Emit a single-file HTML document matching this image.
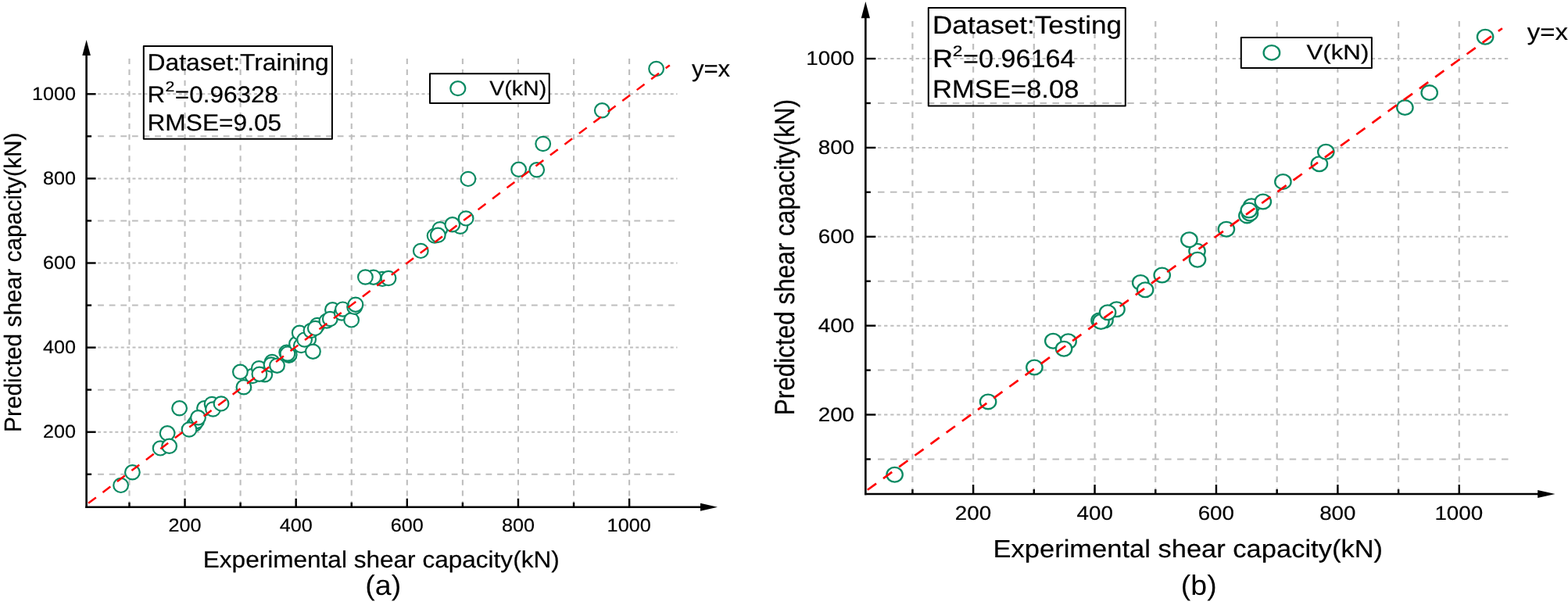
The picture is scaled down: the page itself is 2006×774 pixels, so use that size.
<!DOCTYPE html>
<html lang="en"><head><meta charset="utf-8"><title>Predicted vs experimental shear capacity</title>
<style>
html,body{margin:0;padding:0;background:#fff;}
body{width:2006px;height:774px;overflow:hidden;font-family:"Liberation Sans", sans-serif;}
svg{display:block;}
text{font-family:"Liberation Sans", sans-serif;text-rendering:geometricPrecision;}
</style></head><body>
<svg width="2006" height="774" viewBox="0 0 2006 774">
<rect x="0" y="0" width="2006" height="774" fill="#fff"/>
<!-- chart a -->
<g stroke="#bebebe" stroke-width="2" fill="none"><line x1="165.47" y1="75.00" x2="165.47" y2="648.75" stroke-width="2.1" stroke-dasharray="7.1 6.713" stroke-dashoffset="0"/><line x1="236.54" y1="75.00" x2="236.54" y2="648.75" stroke-width="2.1" stroke-dasharray="7.1 6.713" stroke-dashoffset="0"/><line x1="307.61" y1="75.00" x2="307.61" y2="648.75" stroke-width="2.1" stroke-dasharray="7.1 6.713" stroke-dashoffset="0"/><line x1="378.68" y1="75.00" x2="378.68" y2="648.75" stroke-width="2.1" stroke-dasharray="7.1 6.713" stroke-dashoffset="0"/><line x1="449.75" y1="75.00" x2="449.75" y2="648.75" stroke-width="2.1" stroke-dasharray="7.1 6.713" stroke-dashoffset="0"/><line x1="520.82" y1="75.00" x2="520.82" y2="648.75" stroke-width="2.1" stroke-dasharray="7.1 6.713" stroke-dashoffset="0"/><line x1="591.89" y1="75.00" x2="591.89" y2="648.75" stroke-width="2.1" stroke-dasharray="7.1 6.713" stroke-dashoffset="0"/><line x1="662.96" y1="75.00" x2="662.96" y2="648.75" stroke-width="2.1" stroke-dasharray="7.1 6.713" stroke-dashoffset="0"/><line x1="734.03" y1="75.00" x2="734.03" y2="648.75" stroke-width="2.1" stroke-dasharray="7.1 6.713" stroke-dashoffset="0"/><line x1="805.10" y1="75.00" x2="805.10" y2="648.75" stroke-width="2.1" stroke-dasharray="7.1 6.713" stroke-dashoffset="0"/><line x1="125.10" y1="606.75" x2="866.50" y2="606.75" stroke-dasharray="7.8 6.8" stroke-dashoffset="0"/><line x1="125.10" y1="552.70" x2="866.50" y2="552.70" stroke-dasharray="4 3.4" stroke-dashoffset="0"/><line x1="125.10" y1="498.65" x2="866.50" y2="498.65" stroke-dasharray="7.8 6.8" stroke-dashoffset="0"/><line x1="125.10" y1="444.60" x2="866.50" y2="444.60" stroke-dasharray="4 3.4" stroke-dashoffset="0"/><line x1="125.10" y1="390.55" x2="866.50" y2="390.55" stroke-dasharray="7.8 6.8" stroke-dashoffset="0"/><line x1="125.10" y1="336.50" x2="866.50" y2="336.50" stroke-dasharray="4 3.4" stroke-dashoffset="0"/><line x1="125.10" y1="282.45" x2="866.50" y2="282.45" stroke-dasharray="7.8 6.8" stroke-dashoffset="0"/><line x1="125.10" y1="228.40" x2="866.50" y2="228.40" stroke-dasharray="4 3.4" stroke-dashoffset="0"/><line x1="125.10" y1="174.35" x2="866.50" y2="174.35" stroke-dasharray="7.8 6.8" stroke-dashoffset="0"/><line x1="125.10" y1="120.30" x2="866.50" y2="120.30" stroke-dasharray="4 3.4" stroke-dashoffset="0"/></g>
<g fill="#fff" stroke="#0b8a63" stroke-width="2.2"><ellipse cx="154.6" cy="620.9" rx="9.35" ry="9.1"/><ellipse cx="169.4" cy="604.3" rx="9.35" ry="9.1"/><ellipse cx="205.1" cy="573.4" rx="9.35" ry="9.1"/><ellipse cx="214.1" cy="554.3" rx="9.35" ry="9.1"/><ellipse cx="216.6" cy="570.8" rx="9.35" ry="9.1"/><ellipse cx="229.6" cy="522.3" rx="9.35" ry="9.1"/><ellipse cx="248.6" cy="542.9" rx="9.35" ry="9.1"/><ellipse cx="251.5" cy="538.9" rx="9.35" ry="9.1"/><ellipse cx="242.0" cy="549.5" rx="9.35" ry="9.1"/><ellipse cx="261.5" cy="522.3" rx="9.35" ry="9.1"/><ellipse cx="253.5" cy="534.3" rx="9.35" ry="9.1"/><ellipse cx="271.1" cy="516.9" rx="9.35" ry="9.1"/><ellipse cx="272.5" cy="523.5" rx="9.35" ry="9.1"/><ellipse cx="283.0" cy="516.4" rx="9.35" ry="9.1"/><ellipse cx="323.1" cy="481.0" rx="9.35" ry="9.1"/><ellipse cx="331.3" cy="471.2" rx="9.35" ry="9.1"/><ellipse cx="338.8" cy="479.3" rx="9.35" ry="9.1"/><ellipse cx="307.4" cy="475.8" rx="9.35" ry="9.1"/><ellipse cx="311.9" cy="495.3" rx="9.35" ry="9.1"/><ellipse cx="331.9" cy="478.7" rx="9.35" ry="9.1"/><ellipse cx="348.1" cy="463.0" rx="9.35" ry="9.1"/><ellipse cx="347.0" cy="466.5" rx="9.35" ry="9.1"/><ellipse cx="354.5" cy="467.7" rx="9.35" ry="9.1"/><ellipse cx="366.7" cy="450.8" rx="9.35" ry="9.1"/><ellipse cx="369.7" cy="454.9" rx="9.35" ry="9.1"/><ellipse cx="370.2" cy="453.7" rx="9.35" ry="9.1"/><ellipse cx="367.9" cy="452.6" rx="9.35" ry="9.1"/><ellipse cx="379.5" cy="439.8" rx="9.35" ry="9.1"/><ellipse cx="385.3" cy="442.1" rx="9.35" ry="9.1"/><ellipse cx="383.2" cy="425.8" rx="9.35" ry="9.1"/><ellipse cx="394.7" cy="434.0" rx="9.35" ry="9.1"/><ellipse cx="400.4" cy="449.7" rx="9.35" ry="9.1"/><ellipse cx="389.6" cy="434.6" rx="9.35" ry="9.1"/><ellipse cx="398.0" cy="423.0" rx="9.35" ry="9.1"/><ellipse cx="406.0" cy="416.0" rx="9.35" ry="9.1"/><ellipse cx="403.3" cy="419.9" rx="9.35" ry="9.1"/><ellipse cx="417.9" cy="410.6" rx="9.35" ry="9.1"/><ellipse cx="425.4" cy="396.3" rx="9.35" ry="9.1"/><ellipse cx="422.3" cy="408.0" rx="9.35" ry="9.1"/><ellipse cx="437.2" cy="400.5" rx="9.35" ry="9.1"/><ellipse cx="438.5" cy="395.6" rx="9.35" ry="9.1"/><ellipse cx="449.6" cy="409.4" rx="9.35" ry="9.1"/><ellipse cx="453.6" cy="392.8" rx="9.35" ry="9.1"/><ellipse cx="454.9" cy="389.7" rx="9.35" ry="9.1"/><ellipse cx="489.2" cy="356.9" rx="9.35" ry="9.1"/><ellipse cx="477.8" cy="354.7" rx="9.35" ry="9.1"/><ellipse cx="467.4" cy="354.5" rx="9.35" ry="9.1"/><ellipse cx="497.0" cy="356.0" rx="9.35" ry="9.1"/><ellipse cx="538.3" cy="320.9" rx="9.35" ry="9.1"/><ellipse cx="556.1" cy="301.6" rx="9.35" ry="9.1"/><ellipse cx="562.8" cy="293.2" rx="9.35" ry="9.1"/><ellipse cx="560.3" cy="300.8" rx="9.35" ry="9.1"/><ellipse cx="588.8" cy="289.8" rx="9.35" ry="9.1"/><ellipse cx="578.8" cy="287.3" rx="9.35" ry="9.1"/><ellipse cx="596.1" cy="279.4" rx="9.35" ry="9.1"/><ellipse cx="598.9" cy="228.9" rx="9.35" ry="9.1"/><ellipse cx="663.6" cy="216.8" rx="9.35" ry="9.1"/><ellipse cx="686.7" cy="217.3" rx="9.35" ry="9.1"/><ellipse cx="694.7" cy="184.0" rx="9.35" ry="9.1"/><ellipse cx="770.3" cy="141.3" rx="9.35" ry="9.1"/><ellipse cx="839.6" cy="88.0" rx="9.35" ry="9.1"/></g>
<line x1="113.0" y1="643.8" x2="856.8" y2="83.4" stroke="#ff0000" stroke-width="2.5" stroke-dasharray="12.3 10.82" stroke-dashoffset="0"/>
<g stroke="#000" stroke-width="2.6" fill="none"><line x1="110.60" y1="650.05" x2="110.60" y2="69.90"/><line x1="109.30" y1="648.75" x2="897.00" y2="648.75"/><line x1="165.47" y1="648.75" x2="165.47" y2="642.75" stroke-width="2.4"/><line x1="110.60" y1="606.75" x2="117.10" y2="606.75" stroke-width="2.4"/><line x1="236.54" y1="648.75" x2="236.54" y2="637.75" stroke-width="2.4"/><line x1="110.60" y1="552.70" x2="122.60" y2="552.70" stroke-width="2.4"/><line x1="307.61" y1="648.75" x2="307.61" y2="642.75" stroke-width="2.4"/><line x1="110.60" y1="498.65" x2="117.10" y2="498.65" stroke-width="2.4"/><line x1="378.68" y1="648.75" x2="378.68" y2="637.75" stroke-width="2.4"/><line x1="110.60" y1="444.60" x2="122.60" y2="444.60" stroke-width="2.4"/><line x1="449.75" y1="648.75" x2="449.75" y2="642.75" stroke-width="2.4"/><line x1="110.60" y1="390.55" x2="117.10" y2="390.55" stroke-width="2.4"/><line x1="520.82" y1="648.75" x2="520.82" y2="637.75" stroke-width="2.4"/><line x1="110.60" y1="336.50" x2="122.60" y2="336.50" stroke-width="2.4"/><line x1="591.89" y1="648.75" x2="591.89" y2="642.75" stroke-width="2.4"/><line x1="110.60" y1="282.45" x2="117.10" y2="282.45" stroke-width="2.4"/><line x1="662.96" y1="648.75" x2="662.96" y2="637.75" stroke-width="2.4"/><line x1="110.60" y1="228.40" x2="122.60" y2="228.40" stroke-width="2.4"/><line x1="734.03" y1="648.75" x2="734.03" y2="642.75" stroke-width="2.4"/><line x1="110.60" y1="174.35" x2="117.10" y2="174.35" stroke-width="2.4"/><line x1="805.10" y1="648.75" x2="805.10" y2="637.75" stroke-width="2.4"/><line x1="110.60" y1="120.30" x2="122.60" y2="120.30" stroke-width="2.4"/></g>
<path d="M110.60 51.00 L115.90 70.90 L110.60 70.90 L105.30 70.90 Z" fill="#000"/>
<path d="M918.00 648.75 L896.00 643.75 L896.00 648.75 L896.00 653.75 Z" fill="#000"/>
<g font-family='"Liberation Sans", sans-serif' fill="#000" stroke="#000" stroke-width="0.2" stroke-linejoin="round"><text transform="translate(55.05,559.90) scale(1.0612,1)" font-size="23.73" fill="#000">200</text><text transform="translate(215.39,679.60) scale(1.0612,1)" font-size="23.73" fill="#000">200</text><text transform="translate(55.05,451.80) scale(1.0613,1)" font-size="23.73" fill="#000">400</text><text transform="translate(357.87,679.60) scale(1.0613,1)" font-size="23.73" fill="#000">400</text><text transform="translate(55.05,343.70) scale(1.0612,1)" font-size="23.73" fill="#000">600</text><text transform="translate(499.67,679.60) scale(1.0612,1)" font-size="23.73" fill="#000">600</text><text transform="translate(55.05,235.60) scale(1.0612,1)" font-size="23.73" fill="#000">800</text><text transform="translate(641.90,679.60) scale(1.0612,1)" font-size="23.73" fill="#000">800</text><text transform="translate(41.01,127.50) scale(1.0626,1)" font-size="23.73" fill="#000">1000</text><text transform="translate(776.61,679.60) scale(1.0626,1)" font-size="23.73" fill="#000">1000</text><text transform="translate(259.80,725.60) scale(1.0539,1)" font-size="29.94" fill="#000">Experimental shear capacity(kN)</text><text transform="translate(27.20,552.96) rotate(-90) scale(1,1.0271)" font-size="29.86">Predicted shear capacity(kN)</text><text stroke="none" transform="translate(467.35,761.30) scale(1.0468,1)" font-size="35.86" fill="#000">(a)</text><text transform="translate(884.92,97.80) scale(1.0387,1)" font-size="29.92" fill="#000">y=x</text><rect x="183.8" y="59.1" width="241.1" height="118.7" fill="none" stroke="#000" stroke-width="2"/><text transform="translate(188.47,89.80) scale(1.0531,1)" font-size="30.23" fill="#000">Dataset:Training</text><text transform="translate(188.51,130.60) scale(1.0590,1)" font-size="29.65" fill="#000">R</text><text transform="translate(211.43,116.70) scale(1.1610,1)" font-size="18.36" fill="#000">2</text><text transform="translate(223.82,130.60) scale(1.0631,1)" font-size="29.65" fill="#000">=0.96328</text><text transform="translate(188.49,166.50) scale(1.0688,1)" font-size="29.65" fill="#000">RMSE=9.05</text><rect x="550" y="94.2" width="152.7" height="37.9" fill="#fff" stroke="#000" stroke-width="2"/><ellipse cx="585.8" cy="113.2" rx="9.5" ry="9.0" fill="#fff" stroke="#0b8a63" stroke-width="2.2"/><text transform="translate(626.26,121.70) scale(1.0790,1)" font-size="26.45" fill="#000">V(kN)</text></g>
<!-- chart b -->
<g stroke="#bebebe" stroke-width="2" fill="none"><line x1="1167.41" y1="26.90" x2="1167.41" y2="632.00" stroke-width="2.2" stroke-dasharray="7.47 7.097" stroke-dashoffset="0"/><line x1="1245.12" y1="26.90" x2="1245.12" y2="632.00" stroke-width="2.2" stroke-dasharray="7.47 7.097" stroke-dashoffset="0"/><line x1="1322.83" y1="26.90" x2="1322.83" y2="632.00" stroke-width="2.2" stroke-dasharray="7.47 7.097" stroke-dashoffset="0"/><line x1="1400.54" y1="26.90" x2="1400.54" y2="632.00" stroke-width="2.2" stroke-dasharray="7.47 7.097" stroke-dashoffset="0"/><line x1="1478.25" y1="26.90" x2="1478.25" y2="632.00" stroke-width="2.2" stroke-dasharray="7.47 7.097" stroke-dashoffset="0"/><line x1="1555.96" y1="26.90" x2="1555.96" y2="632.00" stroke-width="2.2" stroke-dasharray="7.47 7.097" stroke-dashoffset="0"/><line x1="1633.67" y1="26.90" x2="1633.67" y2="632.00" stroke-width="2.2" stroke-dasharray="7.47 7.097" stroke-dashoffset="0"/><line x1="1711.38" y1="26.90" x2="1711.38" y2="632.00" stroke-width="2.2" stroke-dasharray="7.47 7.097" stroke-dashoffset="0"/><line x1="1789.09" y1="26.90" x2="1789.09" y2="632.00" stroke-width="2.2" stroke-dasharray="7.47 7.097" stroke-dashoffset="0"/><line x1="1866.80" y1="26.90" x2="1866.80" y2="632.00" stroke-width="2.2" stroke-dasharray="7.47 7.097" stroke-dashoffset="0"/><line x1="1123.00" y1="587.46" x2="1933.00" y2="587.46" stroke-dasharray="8.53 7.43" stroke-dashoffset="0"/><line x1="1123.00" y1="530.52" x2="1933.00" y2="530.52" stroke-dasharray="4.3 3.8" stroke-dashoffset="0"/><line x1="1123.00" y1="473.59" x2="1933.00" y2="473.59" stroke-dasharray="8.53 7.43" stroke-dashoffset="0"/><line x1="1123.00" y1="416.65" x2="1933.00" y2="416.65" stroke-dasharray="4.3 3.8" stroke-dashoffset="0"/><line x1="1123.00" y1="359.72" x2="1933.00" y2="359.72" stroke-dasharray="8.53 7.43" stroke-dashoffset="0"/><line x1="1123.00" y1="302.79" x2="1933.00" y2="302.79" stroke-dasharray="4.3 3.8" stroke-dashoffset="0"/><line x1="1123.00" y1="245.85" x2="1933.00" y2="245.85" stroke-dasharray="8.53 7.43" stroke-dashoffset="0"/><line x1="1123.00" y1="188.92" x2="1933.00" y2="188.92" stroke-dasharray="4.3 3.8" stroke-dashoffset="0"/><line x1="1123.00" y1="131.98" x2="1933.00" y2="131.98" stroke-dasharray="8.53 7.43" stroke-dashoffset="0"/><line x1="1123.00" y1="75.05" x2="1933.00" y2="75.05" stroke-dasharray="4.3 3.8" stroke-dashoffset="0"/></g>
<g fill="#fff" stroke="#0b8a63" stroke-width="2.3"><ellipse cx="1144.6" cy="607.2" rx="10.2" ry="9.35"/><ellipse cx="1264.1" cy="513.9" rx="10.2" ry="9.35"/><ellipse cx="1323.4" cy="470.0" rx="10.2" ry="9.35"/><ellipse cx="1366.6" cy="436.7" rx="10.2" ry="9.35"/><ellipse cx="1347.3" cy="436.3" rx="10.2" ry="9.35"/><ellipse cx="1361.1" cy="446.3" rx="10.2" ry="9.35"/><ellipse cx="1406.5" cy="410.0" rx="10.2" ry="9.35"/><ellipse cx="1413.5" cy="409.8" rx="10.2" ry="9.35"/><ellipse cx="1408.5" cy="411.5" rx="10.2" ry="9.35"/><ellipse cx="1428.5" cy="395.8" rx="10.2" ry="9.35"/><ellipse cx="1417.1" cy="399.8" rx="10.2" ry="9.35"/><ellipse cx="1459.2" cy="361.5" rx="10.2" ry="9.35"/><ellipse cx="1465.1" cy="370.8" rx="10.2" ry="9.35"/><ellipse cx="1486.7" cy="352.0" rx="10.2" ry="9.35"/><ellipse cx="1531.5" cy="321.3" rx="10.2" ry="9.35"/><ellipse cx="1521.4" cy="306.8" rx="10.2" ry="9.35"/><ellipse cx="1532.0" cy="332.2" rx="10.2" ry="9.35"/><ellipse cx="1568.9" cy="293.2" rx="10.2" ry="9.35"/><ellipse cx="1595.4" cy="275.9" rx="10.2" ry="9.35"/><ellipse cx="1601.1" cy="263.7" rx="10.2" ry="9.35"/><ellipse cx="1599.0" cy="273.0" rx="10.2" ry="9.35"/><ellipse cx="1597.8" cy="269.0" rx="10.2" ry="9.35"/><ellipse cx="1615.8" cy="258.0" rx="10.2" ry="9.35"/><ellipse cx="1641.4" cy="232.4" rx="10.2" ry="9.35"/><ellipse cx="1687.9" cy="209.8" rx="10.2" ry="9.35"/><ellipse cx="1696.3" cy="194.3" rx="10.2" ry="9.35"/><ellipse cx="1797.4" cy="137.6" rx="10.2" ry="9.35"/><ellipse cx="1828.7" cy="118.6" rx="10.2" ry="9.35"/><ellipse cx="1900.1" cy="47.3" rx="10.2" ry="9.35"/></g>
<line x1="1109.8" y1="626.75" x2="1921.9" y2="36.27" stroke="#ff0000" stroke-width="2.7" stroke-dasharray="13.9 11.046" stroke-dashoffset="0"/>
<g stroke="#000" stroke-width="2.6" fill="none"><line x1="1107.35" y1="633.30" x2="1107.35" y2="22.30"/><line x1="1106.05" y1="632.00" x2="1968.20" y2="632.00"/><line x1="1167.41" y1="632.00" x2="1167.41" y2="626.00" stroke-width="2.4"/><line x1="1107.35" y1="587.46" x2="1113.85" y2="587.46" stroke-width="2.4"/><line x1="1245.12" y1="632.00" x2="1245.12" y2="620.00" stroke-width="2.4"/><line x1="1107.35" y1="530.52" x2="1120.35" y2="530.52" stroke-width="2.4"/><line x1="1322.83" y1="632.00" x2="1322.83" y2="626.00" stroke-width="2.4"/><line x1="1107.35" y1="473.59" x2="1113.85" y2="473.59" stroke-width="2.4"/><line x1="1400.54" y1="632.00" x2="1400.54" y2="620.00" stroke-width="2.4"/><line x1="1107.35" y1="416.65" x2="1120.35" y2="416.65" stroke-width="2.4"/><line x1="1478.25" y1="632.00" x2="1478.25" y2="626.00" stroke-width="2.4"/><line x1="1107.35" y1="359.72" x2="1113.85" y2="359.72" stroke-width="2.4"/><line x1="1555.96" y1="632.00" x2="1555.96" y2="620.00" stroke-width="2.4"/><line x1="1107.35" y1="302.79" x2="1120.35" y2="302.79" stroke-width="2.4"/><line x1="1633.67" y1="632.00" x2="1633.67" y2="626.00" stroke-width="2.4"/><line x1="1107.35" y1="245.85" x2="1113.85" y2="245.85" stroke-width="2.4"/><line x1="1711.38" y1="632.00" x2="1711.38" y2="620.00" stroke-width="2.4"/><line x1="1107.35" y1="188.92" x2="1120.35" y2="188.92" stroke-width="2.4"/><line x1="1789.09" y1="632.00" x2="1789.09" y2="626.00" stroke-width="2.4"/><line x1="1107.35" y1="131.98" x2="1113.85" y2="131.98" stroke-width="2.4"/><line x1="1866.80" y1="632.00" x2="1866.80" y2="620.00" stroke-width="2.4"/><line x1="1107.35" y1="75.05" x2="1120.35" y2="75.05" stroke-width="2.4"/></g>
<path d="M1107.35 2.10 L1112.95 23.30 L1107.35 23.30 L1101.75 23.30 Z" fill="#000"/>
<path d="M1989.50 632.00 L1967.20 627.00 L1967.20 632.00 L1967.20 637.00 Z" fill="#000"/>
<g font-family='"Liberation Sans", sans-serif' fill="#000" stroke="#000" stroke-width="0.2" stroke-linejoin="round"><text transform="translate(1046.75,538.82) scale(1.1043,1)" font-size="25.14" fill="#000">200</text><text transform="translate(1221.80,664.65) scale(1.1043,1)" font-size="25.14" fill="#000">200</text><text transform="translate(1046.74,424.95) scale(1.1044,1)" font-size="25.14" fill="#000">400</text><text transform="translate(1377.60,664.65) scale(1.1044,1)" font-size="25.14" fill="#000">400</text><text transform="translate(1046.75,311.09) scale(1.1043,1)" font-size="25.14" fill="#000">600</text><text transform="translate(1532.64,664.65) scale(1.1043,1)" font-size="25.14" fill="#000">600</text><text transform="translate(1046.74,197.22) scale(1.1043,1)" font-size="25.14" fill="#000">800</text><text transform="translate(1688.16,664.65) scale(1.1043,1)" font-size="25.14" fill="#000">800</text><text transform="translate(1031.27,83.35) scale(1.1056,1)" font-size="25.14" fill="#000">1000</text><text transform="translate(1835.39,664.65) scale(1.1056,1)" font-size="25.14" fill="#000">1000</text><text transform="translate(1270.55,713.30) scale(1.0791,1)" font-size="31.98" fill="#000">Experimental shear capacity(kN)</text><text transform="translate(1015.80,531.30) rotate(-90) scale(1,1.1308)" font-size="31.49">Predicted shear capacity(kN)</text><text stroke="none" transform="translate(1510.85,760.60) scale(1.0468,1)" font-size="35.86" fill="#000">(b)</text><text transform="translate(1953.72,51.15) scale(1.1096,1)" font-size="29.73" fill="#000">y=x</text><rect x="1187.8" y="10" width="252" height="125.6" fill="none" stroke="#000" stroke-width="2"/><text transform="translate(1193.00,42.80) scale(1.0885,1)" font-size="32.27" fill="#000">Dataset:Testing</text><text transform="translate(1192.92,85.60) scale(1.1196,1)" font-size="32.27" fill="#000">R</text><text transform="translate(1218.66,71.90) scale(1.1727,1)" font-size="19.49" fill="#000">2</text><text transform="translate(1232.09,85.60) scale(1.0576,1)" font-size="32.27" fill="#000">=0.96164</text><text transform="translate(1193.05,124.70) scale(1.0716,1)" font-size="32.27" fill="#000">RMSE=8.08</text><rect x="1587.8" y="47.9" width="167.1" height="39.2" fill="#fff" stroke="#000" stroke-width="2"/><ellipse cx="1626.9" cy="67.4" rx="10.3" ry="9.25" fill="#fff" stroke="#0b8a63" stroke-width="2.3"/><text transform="translate(1671.44,76.10) scale(1.1569,1)" font-size="27.03" fill="#000">V(kN)</text></g>
</svg>
</body></html>
